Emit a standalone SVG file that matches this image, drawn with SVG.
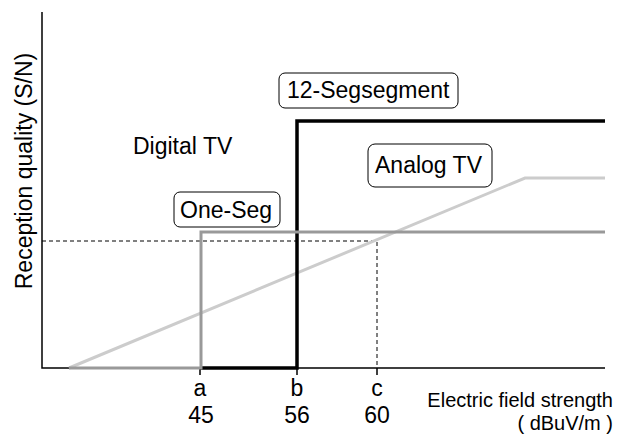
<svg xmlns="http://www.w3.org/2000/svg" width="618" height="435" viewBox="0 0 618 435">
<style>
text{font-family:"Liberation Sans",Arial,sans-serif;fill:#000}
.big{font-size:23px}
.sm{font-size:20px}
.box{fill:#fff;stroke:#000;stroke-width:1}
.axis{stroke:#000;stroke-width:1.5;fill:none}
.dash{stroke:#000;stroke-width:1;stroke-dasharray:4,3;fill:none}
</style>
<rect width="618" height="435" fill="#fff"/>
<g id="axes">
<path class="axis" d="M42,12 V368 H605"/>
<path class="axis" d="M200,368 V375 M297,368 V375 M377,368 V375"/>
</g>
<g id="connectors">
<path class="dash" d="M42,241 H377 V368"/>
<path d="M69,368 L525,178 H605" fill="none" stroke="#cccccc" stroke-width="3"/>
<path d="M200,368 H297 V121 H605" fill="none" stroke="#000" stroke-width="3.5"/>
<path d="M69,368 H201 V232 H605" fill="none" stroke="#999999" stroke-width="3"/>
</g>
<g id="label-12seg">
<rect class="box" x="279" y="73" width="179" height="35" rx="6"/>
<text class="big" x="287" y="98">12-Segsegment</text>
</g>
<g id="label-analog">
<rect class="box" x="368" y="144" width="124" height="43" rx="7"/>
<text class="big" x="375" y="173">Analog TV</text>
</g>
<g id="label-oneseg">
<rect class="box" x="174" y="192" width="106" height="35" rx="6"/>
<text class="big" x="180" y="218">One-Seg</text>
</g>
<g id="label-digital">
<text class="big" x="133" y="154">Digital TV</text>
</g>
<g id="y-label">
<text class="big" transform="translate(32,171) rotate(-90)" text-anchor="middle">Reception quality (S/N)</text>
</g>
<g id="x-ticks" text-anchor="middle">
<text class="big" x="200" y="396">a</text>
<text class="big" x="201" y="423">45</text>
<text class="big" x="297" y="396">b</text>
<text class="big" x="297" y="423">56</text>
<text class="big" x="377" y="396">c</text>
<text class="big" x="377" y="423">60</text>
</g>
<g id="x-label" text-anchor="end">
<text class="sm" x="613" y="407">Electric field strength</text>
<text class="sm" x="613" y="430">( dBuV/m )</text>
</g>
</svg>
